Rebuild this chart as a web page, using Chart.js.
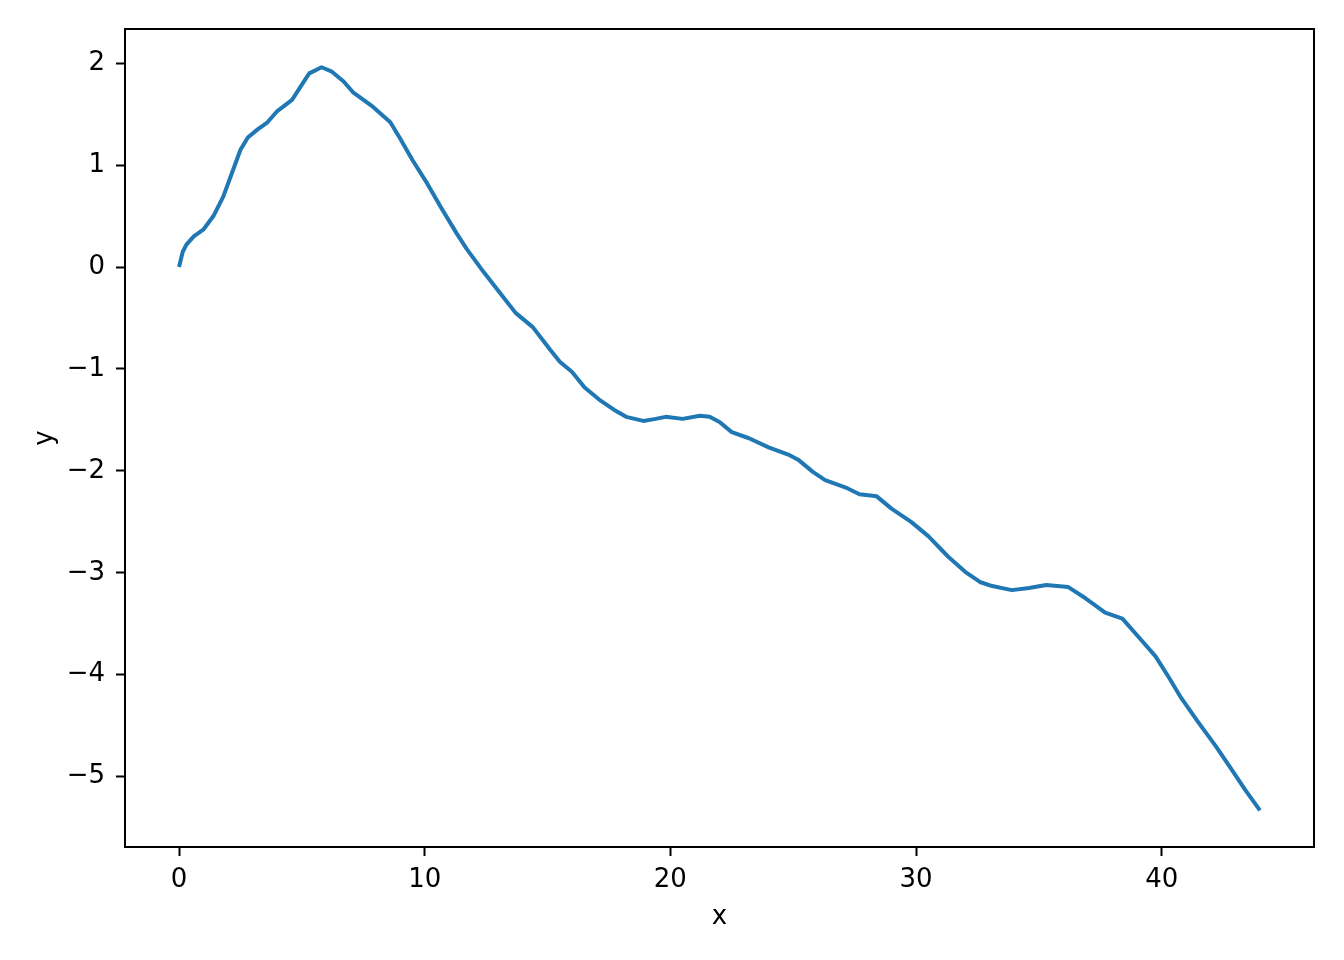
<!DOCTYPE html>
<html>
<head>
<meta charset="utf-8">
<script src="https://cdn.jsdelivr.net/npm/chart.js@4"></script>
<style>
  html, body { margin: 0; padding: 0; background: #fff; }
  canvas { display: block; }
</style>
</head>
<body>
<canvas id="lineChart" width="1344" height="960"></canvas>
<script>
// values
var xs = [0, 0.15, 0.3, 0.6, 1.0, 1.4, 1.8, 2.15, 2.5, 2.8, 3.2, 3.6, 4.0, 4.6, 5.0, 5.3, 5.8,
          6.2, 6.7, 7.1, 7.9, 8.6, 9.0, 9.5, 10.1, 10.7, 11.3, 11.7, 12.4, 13.05, 13.7, 14.4,
          15.1, 15.5, 16.0, 16.5, 17.1, 17.7, 18.2, 18.9, 19.4, 19.8, 20.5, 21.2, 21.6, 22.0,
          22.5, 23.2, 24.0, 24.8, 25.2, 25.8, 26.3, 27.2, 27.7, 28.4, 29.0, 29.8, 30.5, 31.3,
          32.0, 32.6, 33.1, 33.9, 34.6, 35.3, 36.2, 36.9, 37.7, 38.4, 39.06, 39.75, 40.3, 40.8,
          41.5, 42.2, 42.85, 43.4, 44.0];
var ys = [0, 0.15, 0.22, 0.3, 0.37, 0.5, 0.69, 0.92, 1.15, 1.27, 1.35, 1.42, 1.53, 1.64, 1.79, 1.9, 1.96,
          1.92, 1.82, 1.71, 1.57, 1.42, 1.26, 1.05, 0.82, 0.57, 0.33, 0.18, -0.05, -0.25, -0.45, -0.59,
          -0.81, -0.93, -1.03, -1.18, -1.3, -1.4, -1.47, -1.51, -1.49, -1.47, -1.49, -1.46, -1.47, -1.52,
          -1.62, -1.68, -1.77, -1.84, -1.89, -2.01, -2.09, -2.17, -2.23, -2.25, -2.37, -2.5, -2.64, -2.84,
          -2.99, -3.09, -3.13, -3.17, -3.15, -3.12, -3.14, -3.25, -3.39, -3.45, -3.63, -3.82, -4.03, -4.23,
          -4.47, -4.7, -4.93, -5.13, -5.33];
var xTicks = [0, 10, 20, 30, 40];
var yTicks = [-5, -4, -3, -2, -1, 0, 1, 2];

var points = xs.map(function (x, i) { return { x: x, y: ys[i] }; });

function fmt(v) {
    return v < 0 ? '\u2212' + Math.abs(v) : String(v);
}

// box round the plot area, like matplotlib spines
var frame = {
    id: 'frame',
    afterDraw: function (chart) {
        var a = chart.chartArea, c = chart.ctx;
        c.save();
        c.strokeStyle = '#000';
        c.lineWidth = 2;
        c.strokeRect(a.left, a.top, a.right - a.left, a.bottom - a.top);
        c.restore();
    }
};

var font = { family: 'DejaVu Sans', size: 26 };

var ctx = document.getElementById('lineChart').getContext('2d');
var lineChart = new Chart(ctx, {
    type: 'line',
    data: {
        datasets: [{
            data: points,
            borderColor: '#1f77b4',
            borderWidth: 4,
            borderJoinStyle: 'round',
            borderCapStyle: 'butt',
            pointRadius: 0,
            tension: 0,
            fill: false
        }]
    },
    options: {
        responsive: false,
        animation: false,
        devicePixelRatio: 1,
        layout: { padding: { top: 29, right: 30, left: 0, bottom: 0 } },
        plugins: {
            legend: { display: false },
            tooltip: { enabled: false }
        },
        scales: {
            x: {
                type: 'linear',
                min: -2.2,
                max: 46.2,
                afterBuildTicks: function (s) { s.ticks = xTicks.map(function (v) { return { value: v }; }); },
                afterFit: function (s) { s.height = 113; },
                ticks: { color: '#000', font: font, padding: 9, maxRotation: 0, callback: fmt },
                grid: { drawOnChartArea: false, drawTicks: true, tickLength: 9, tickWidth: 2, tickColor: '#000' },
                border: { display: true, color: '#000', width: 2 },
                title: { display: true, text: 'x', color: '#000', font: font, padding: { top: 0, bottom: 27 } }
            },
            y: {
                type: 'linear',
                min: -5.69,
                max: 2.335,
                afterBuildTicks: function (s) { s.ticks = yTicks.map(function (v) { return { value: v }; }); },
                afterFit: function (s) { s.width = 125; },
                ticks: { color: '#000', font: font, padding: 11, callback: fmt },
                grid: { drawOnChartArea: false, drawTicks: true, tickLength: 9, tickWidth: 2, tickColor: '#000' },
                border: { display: true, color: '#000', width: 2 },
                title: { display: true, text: 'y', color: '#000', font: font, padding: { top: 30, bottom: 0 } }
            }
        }
    },
    plugins: [frame]
});
</script>
</body>
</html>
